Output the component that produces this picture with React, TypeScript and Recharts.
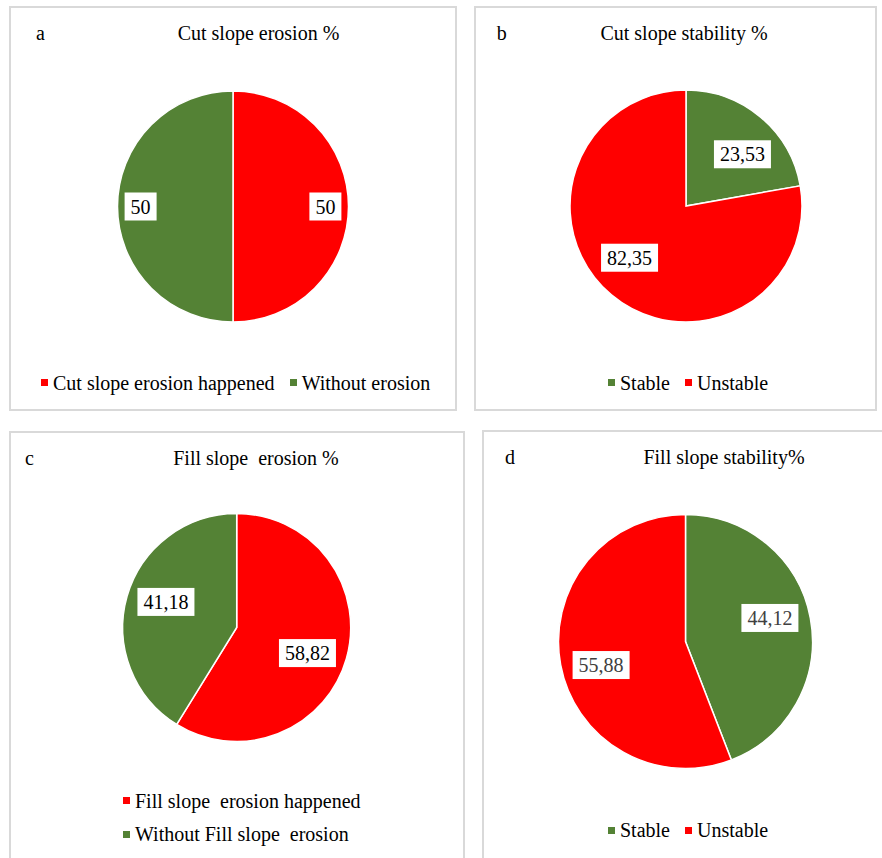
import { Legend, Pie, PieChart, Cell } from 'recharts';

const RED = '#ff0000';
const GREEN = '#548235';

const erosionCutNames = ['Cut slope erosion happened', 'Without erosion'];
const erosionCutValues = [50, 50];
const erosionCutColors = [RED, GREEN];

const stabilityCutNames = ['Stable', 'Unstable'];
const stabilityCutValues = [23.53, 82.35];
const stabilityCutColors = [GREEN, RED];

const erosionFillNames = ['Fill slope  erosion happened', 'Without Fill slope  erosion'];
const erosionFillValues = [58.82, 41.18];
const erosionFillColors = [RED, GREEN];

const stabilityFillNames = ['Stable', 'Unstable'];
const stabilityFillValues = [44.12, 55.88];
const stabilityFillColors = [GREEN, RED];

const FONT = '"Liberation Serif", "Times New Roman", serif';
const RADIAN = Math.PI / 180;

function fmt(v: number) {
  return String(v).replace('.', ',');
}

interface PanelProps {
  letter: string;
  title: string;
  names: string[];
  values: number[];
  colors: string[];
  left: number;
  top: number;
  width: number;
  height: number;
  cx: number;
  cy: number;
  radius: number;
  letterX: number;
  titleX: number;
  titleY: number;
  labelFactor: number;
  labelShift: number;
  labelColor: string;
  legendLeft: number;
  legendTop: number;
  legendColumn?: boolean;
}

function Panel(p: PanelProps) {
  const data = p.names.map((name, i) => ({ name, value: p.values[i] }));

  const renderLabel = (props: any) => {
    const { cx, cy, midAngle, outerRadius, value } = props;
    const a = (midAngle + p.labelShift) * RADIAN;
    const r = outerRadius * p.labelFactor;
    const x = cx + r * Math.cos(-a);
    const y = cy + r * Math.sin(-a);
    const text = fmt(value);
    const digits = text.replace(',', '').length;
    const w = digits * 10 + (text.includes(',') ? 5 : 0) + 12;
    return (
      <g>
        <rect x={x - w / 2} y={y - 14} width={w} height={28} fill="#fff" />
        <text x={x} y={y + 7} textAnchor="middle" fontSize={20} fontFamily={FONT} fill={p.labelColor}>
          {text}
        </text>
      </g>
    );
  };

  const legendContent = () => (
    <div
      style={{
        display: 'flex',
        flexDirection: p.legendColumn ? 'column' : 'row',
        gap: p.legendColumn ? 13.5 : 15,
        fontFamily: FONT,
        fontSize: 20,
        lineHeight: '20px',
        color: '#000',
        whiteSpace: 'pre',
      }}
    >
      {p.names.map((name, i) => (
        <div key={name} style={{ display: 'flex', alignItems: 'center' }}>
          <span style={{ width: 7, height: 7, background: p.colors[i], marginRight: 5, display: 'inline-block' }} />
          <span>{name}</span>
        </div>
      ))}
    </div>
  );

  return (
    <div style={{ position: 'absolute', left: p.left, top: p.top, width: p.width, height: p.height }}>
      <div
        style={{
          position: 'absolute',
          left: 0,
          top: 0,
          width: p.width,
          height: p.height,
          border: '2px solid #d9d9d9',
          boxSizing: 'border-box',
        }}
      />
      <PieChart
        width={p.width}
        height={p.height}
        margin={{ top: 0, right: 0, bottom: 0, left: 0 }}
        style={{ position: 'absolute', left: 0, top: 0 }}
      >
        <text x={p.letterX} y={p.titleY} fontSize={20} fontFamily={FONT} fill="#000">
          {p.letter}
        </text>
        <text x={p.titleX} y={p.titleY} textAnchor="middle" fontSize={20} fontFamily={FONT} fill="#000" style={{ whiteSpace: 'pre' }}>
          {p.title}
        </text>
        <Pie
          data={data}
          dataKey="value"
          nameKey="name"
          cx={p.cx}
          cy={p.cy}
          outerRadius={p.radius}
          startAngle={90}
          endAngle={-270}
          stroke="#fff"
          strokeWidth={1.5}
          label={renderLabel}
          labelLine={false}
          isAnimationActive={false}
        >
          {data.map((d, i) => (
            <Cell key={d.name} fill={p.colors[i]} />
          ))}
        </Pie>
        <Legend
          content={legendContent}
          wrapperStyle={{ left: p.legendLeft, top: p.legendTop, bottom: 'auto', width: 'auto' }}
        />
      </PieChart>
    </div>
  );
}

export default function App() {
  return (
    <div
      style={{
        position: 'absolute',
        left: 0,
        top: 0,
        width: 882,
        height: 858,
        overflow: 'hidden',
        background: '#fff',
      }}
    >
      <Panel
        letter="a"
        title="Cut slope erosion %"
        names={erosionCutNames}
        values={erosionCutValues}
        colors={erosionCutColors}
        left={9}
        top={6}
        width={448}
        height={405}
        cx={224}
        cy={200.5}
        radius={115.5}
        letterX={27}
        titleX={249.5}
        titleY={33.5}
        labelFactor={0.8}
        labelShift={0}
        labelColor="#000"
        legendLeft={32}
        legendTop={366.7}
      />
      <Panel
        letter="b"
        title="Cut slope stability %"
        names={stabilityCutNames}
        values={stabilityCutValues}
        colors={stabilityCutColors}
        left={474}
        top={6}
        width={403}
        height={405}
        cx={212}
        cy={200}
        radius={116}
        letterX={22.7}
        titleX={210}
        titleY={33.5}
        labelFactor={0.66}
        labelShift={-7.5}
        labelColor="#000"
        legendLeft={134}
        legendTop={366.7}
      />
      <Panel
        letter="c"
        title="Fill slope  erosion %"
        names={erosionFillNames}
        values={erosionFillValues}
        colors={erosionFillColors}
        left={9}
        top={431}
        width={456}
        height={450}
        cx={227.7}
        cy={196.5}
        radius={114}
        letterX={16}
        titleX={247}
        titleY={34}
        labelFactor={0.66}
        labelShift={-4}
        labelColor="#000"
        legendLeft={114}
        legendTop={359.5}
        legendColumn
      />
      <Panel
        letter="d"
        title="Fill slope stability%"
        names={stabilityFillNames}
        values={stabilityFillValues}
        colors={stabilityFillColors}
        left={482}
        top={430}
        width={420}
        height={450}
        cx={203.5}
        cy={211.5}
        radius={127}
        letterX={23}
        titleX={242}
        titleY={33.5}
        labelFactor={0.69}
        labelShift={5}
        labelColor="#404040"
        legendLeft={126}
        legendTop={390}
      />
    </div>
  );
}
